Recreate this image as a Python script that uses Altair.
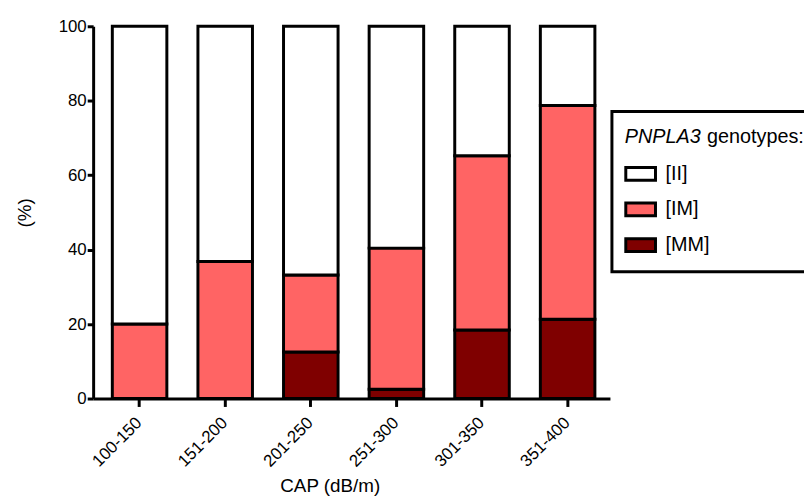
import altair as alt
import pandas as pd

categories = ["100-150", "151-200", "201-250", "251-300", "301-350", "351-400"]
genotypes = ["[II]", "[IM]", "[MM]"]
colors = ["#FFFFFF", "#FF6464", "#7F0000"]
mm_vals = [0.0, 0.0, 12.5, 2.5, 18.4, 21.3]
im_vals = [20.0, 36.8, 20.7, 37.9, 46.8, 57.4]
ii_vals = [80.0, 63.2, 66.8, 59.6, 34.8, 21.3]

FONT = "Liberation Sans"

rows = []
for i, c in enumerate(categories):
    rows.append({"cap": c, "genotype": "[MM]", "pct": mm_vals[i], "ord": 0})
    rows.append({"cap": c, "genotype": "[IM]", "pct": im_vals[i], "ord": 1})
    rows.append({"cap": c, "genotype": "[II]", "pct": ii_vals[i], "ord": 2})
df = pd.DataFrame(rows)

color_scale = alt.Scale(domain=genotypes, range=colors)

bars = alt.Chart(df).mark_bar(stroke="black", strokeWidth=3).encode(
    x=alt.X("cap:N", sort=categories,
            scale=alt.Scale(paddingInner=0.363, paddingOuter=0.2, align=0.56),
            axis=alt.Axis(title="CAP (dB/m)", labelAngle=-45, labelFontSize=17,
                          labelFont=FONT, labelColor="black", titleFont=FONT,
                          titleFontSize=19, titleFontWeight="normal", titleColor="black",
                          domainWidth=3, domainColor="black", tickWidth=3,
                          tickColor="black", tickSize=8, labelPadding=8,
                          labelOffset=-6,
                          titleX=239, titleY=79, titleAlign="center",
                          titleBaseline="top")),
    y=alt.Y("pct:Q", stack="zero", scale=alt.Scale(domain=[0, 100]),
            axis=alt.Axis(title="(%)", values=[0, 20, 40, 60, 80, 100],
                          labelFontSize=17, labelFont=FONT, labelColor="black",
                          titleFont=FONT, titleFontSize=19, titleFontWeight="normal",
                          titleColor="black", domainWidth=3, domainColor="black",
                          tickWidth=3, tickColor="black", tickSize=6, grid=False,
                          labelPadding=1, titleX=-69, titleY=188,
                          titleBaseline="middle", titleAlign="center")),
    color=alt.Color("genotype:N", scale=color_scale, legend=None),
    order=alt.Order("ord:Q", sort="ascending"),
)

leg_df = pd.DataFrame({"genotype": genotypes})
leg_y = alt.Y("genotype:N",
              scale=alt.Scale(type="point", domain=genotypes, range=[149, 221], padding=0),
              axis=None)

box = alt.Chart(alt.Data(values=[{"a": 1}])).mark_rect(
    fill="white", stroke="black", strokeWidth=3
).encode(x=alt.value(524), x2=alt.value(780), y=alt.value(86), y2=alt.value(248))

title1 = alt.Chart(alt.Data(values=[{"t": "PNPLA3"}])).mark_text(
    align="left", baseline="middle", fontSize=20, font=FONT, fontStyle="italic", color="black"
).encode(text="t:N", x=alt.value(537), y=alt.value(112))

title2 = alt.Chart(alt.Data(values=[{"t": "genotypes:"}])).mark_text(
    align="left", baseline="middle", fontSize=20, font=FONT, color="black"
).encode(text="t:N", x=alt.value(620), y=alt.value(112))

swatches = alt.Chart(leg_df).mark_point(
    shape="M-1,-0.43H1V0.43H-1Z", size=900, filled=True, stroke="black",
    strokeWidth=3, opacity=1
).encode(
    x=alt.value(553), y=leg_y,
    fill=alt.Fill("genotype:N", scale=color_scale, legend=None),
)

labels = alt.Chart(leg_df).mark_text(
    align="left", baseline="middle", fontSize=20, font=FONT, color="black"
).encode(x=alt.value(578), y=leg_y, text="genotype:N")

chart = alt.layer(bars, box, title1, title2, swatches, labels).resolve_scale(
    y="independent"
).properties(
    width=522, height=376,
    autosize=alt.AutoSizeParams(type="none"),
    padding={"left": 86, "top": 16, "right": 196, "bottom": 97},
).configure_view(strokeWidth=0)

chart.save("out.html", embed_options={"renderer": "svg", "actions": False})
